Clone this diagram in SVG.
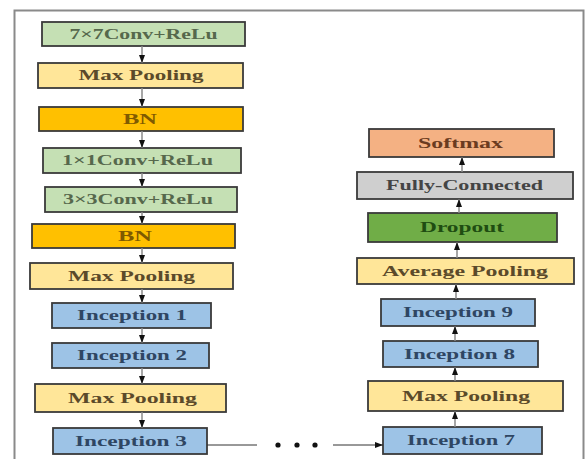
<svg xmlns="http://www.w3.org/2000/svg" width="587" height="459" viewBox="0 0 587 459">
<defs>
<marker id="ah" viewBox="0 0 8 6" markerWidth="8" markerHeight="6" refX="8" refY="3" orient="auto" markerUnits="userSpaceOnUse">
<path d="M0,0 L8,3 L0,6 z" fill="#111"/>
</marker>
<style>
.b{stroke:#3a3a3a;stroke-width:1.8}
.g{fill:#c5e0b4}.y{fill:#ffe699}.o{fill:#ffc000}.bl{fill:#9dc3e6}.s{fill:#f4b183}.f{fill:#cfcfcf}.d{fill:#70ad47}
text{font-family:"Liberation Serif","DejaVu Serif",serif;font-weight:bold;font-size:14px;text-anchor:middle;dominant-baseline:central}
.tg{fill:#56684c}.ty{fill:#5b4a2a}.to{fill:#7f5a00}.tb{fill:#2f4663}.ts{fill:#6b3b20}.tf{fill:#444}.td{fill:#1f4d12}
.c{stroke:#8a8a8a;stroke-width:1.5;fill:none}
</style>
</defs>
<rect x="14.5" y="10.5" width="569" height="470" fill="#fff" stroke="#8a8a8a" stroke-width="2"/>
<g id="conv7"><rect class="b g" x="42" y="22" width="203" height="24"/><text class="tg" x="143.5" y="34" textLength="148" lengthAdjust="spacingAndGlyphs">7×7Conv+ReLu</text></g>
<g id="maxpool1"><rect class="b y" x="38" y="63" width="205" height="25"/><text class="ty" x="141" y="75.5" textLength="125" lengthAdjust="spacingAndGlyphs">Max Pooling</text></g>
<g id="bn1"><rect class="b o" x="39" y="107" width="204" height="24"/><text class="to" x="140" y="119" textLength="34" lengthAdjust="spacingAndGlyphs">BN</text></g>
<g id="conv1"><rect class="b g" x="43" y="148" width="198" height="25"/><text class="tg" x="137.5" y="160.5" textLength="151" lengthAdjust="spacingAndGlyphs">1×1Conv+ReLu</text></g>
<g id="conv3"><rect class="b g" x="45" y="187" width="192" height="25"/><text class="tg" x="138" y="199.5" textLength="150" lengthAdjust="spacingAndGlyphs">3×3Conv+ReLu</text></g>
<g id="bn2"><rect class="b o" x="32" y="224" width="203" height="24"/><text class="to" x="135" y="236" textLength="34" lengthAdjust="spacingAndGlyphs">BN</text></g>
<g id="maxpool2"><rect class="b y" x="30" y="263" width="203" height="26"/><text class="ty" x="131.5" y="276" textLength="127" lengthAdjust="spacingAndGlyphs">Max Pooling</text></g>
<g id="inc1"><rect class="b bl" x="52" y="303" width="159" height="25"/><text class="tb" x="132" y="315.5" textLength="110" lengthAdjust="spacingAndGlyphs">Inception 1</text></g>
<g id="inc2"><rect class="b bl" x="52" y="343" width="157" height="25"/><text class="tb" x="132" y="355.5" textLength="110" lengthAdjust="spacingAndGlyphs">Inception 2</text></g>
<g id="maxpool3"><rect class="b y" x="35" y="384" width="191" height="28"/><text class="ty" x="132.5" y="398" textLength="129" lengthAdjust="spacingAndGlyphs">Max Pooling</text></g>
<g id="inc3"><rect class="b bl" x="53" y="428" width="154" height="26"/><text class="tb" x="131" y="441" textLength="112" lengthAdjust="spacingAndGlyphs">Inception 3</text></g>
<g id="softmax"><rect class="b s" x="369" y="129" width="185" height="28"/><text class="ts" x="460.5" y="143" textLength="85" lengthAdjust="spacingAndGlyphs">Softmax</text></g>
<g id="fc"><rect class="b f" x="357" y="172" width="216" height="27"/><text class="tf" x="464.5" y="185.5" textLength="157" lengthAdjust="spacingAndGlyphs">Fully-Connected</text></g>
<g id="dropout"><rect class="b d" x="368" y="213" width="189" height="29"/><text class="td" x="462" y="227.5" textLength="84" lengthAdjust="spacingAndGlyphs">Dropout</text></g>
<g id="avgpool"><rect class="b y" x="357" y="258" width="217" height="26"/><text class="ty" x="465" y="271" textLength="166" lengthAdjust="spacingAndGlyphs">Average Pooling</text></g>
<g id="inc9"><rect class="b bl" x="381" y="299" width="154" height="27"/><text class="tb" x="458" y="312.5" textLength="110" lengthAdjust="spacingAndGlyphs">Inception 9</text></g>
<g id="inc8"><rect class="b bl" x="383" y="341" width="155" height="26"/><text class="tb" x="459.5" y="354" textLength="111" lengthAdjust="spacingAndGlyphs">Inception 8</text></g>
<g id="maxpool4"><rect class="b y" x="368" y="381" width="195" height="30"/><text class="ty" x="466" y="396" textLength="128" lengthAdjust="spacingAndGlyphs">Max Pooling</text></g>
<g id="inc7"><rect class="b bl" x="383" y="427" width="159" height="27"/><text class="tb" x="461" y="440.5" textLength="108" lengthAdjust="spacingAndGlyphs">Inception 7</text></g>
<g id="connectors">
<line class="c" x1="142" y1="46" x2="142" y2="63" marker-end="url(#ah)"/>
<line class="c" x1="142" y1="88" x2="142" y2="107" marker-end="url(#ah)"/>
<line class="c" x1="142" y1="131" x2="142" y2="148" marker-end="url(#ah)"/>
<line class="c" x1="142" y1="173" x2="142" y2="187" marker-end="url(#ah)"/>
<line class="c" x1="142" y1="212" x2="142" y2="224" marker-end="url(#ah)"/>
<line class="c" x1="142" y1="248" x2="142" y2="263" marker-end="url(#ah)"/>
<line class="c" x1="142" y1="289" x2="142" y2="303" marker-end="url(#ah)"/>
<line class="c" x1="142" y1="328" x2="142" y2="343" marker-end="url(#ah)"/>
<line class="c" x1="142" y1="368" x2="142" y2="384" marker-end="url(#ah)"/>
<line class="c" x1="142" y1="412" x2="142" y2="428" marker-end="url(#ah)"/>
<line class="c" x1="455" y1="427" x2="455" y2="411" marker-end="url(#ah)"/>
<line class="c" x1="455" y1="381" x2="455" y2="367" marker-end="url(#ah)"/>
<line class="c" x1="455" y1="341" x2="455" y2="326" marker-end="url(#ah)"/>
<line class="c" x1="456" y1="299" x2="456" y2="284" marker-end="url(#ah)"/>
<line class="c" x1="457" y1="258" x2="457" y2="242" marker-end="url(#ah)"/>
<line class="c" x1="459" y1="213" x2="459" y2="199" marker-end="url(#ah)"/>
<line class="c" x1="462" y1="172" x2="462" y2="157" marker-end="url(#ah)"/>
<line x1="207" y1="445" x2="257" y2="445" stroke="#333" stroke-width="1"/>
<circle cx="278" cy="445" r="2.6" fill="#111"/>
<circle cx="297" cy="445" r="2.6" fill="#111"/>
<circle cx="315" cy="445" r="2.6" fill="#111"/>
<line x1="333" y1="445" x2="383" y2="445" stroke="#333" stroke-width="1" marker-end="url(#ah)"/>
</g>
</svg>
